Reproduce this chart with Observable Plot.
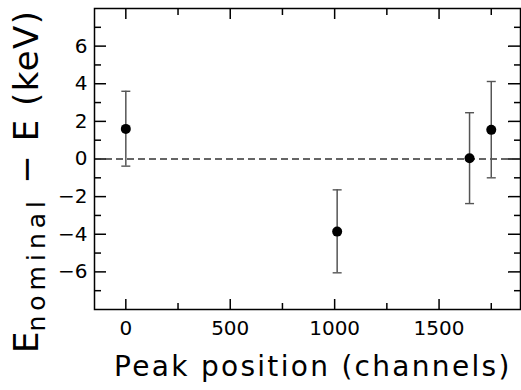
<!DOCTYPE html>
<html>
<head>
<meta charset="utf-8">
<script src="https://cdn.jsdelivr.net/npm/d3@7"></script>
<script src="https://cdn.jsdelivr.net/npm/@observablehq/plot@0.6"></script>
<style>
  html, body { margin: 0; padding: 0; background: #fff; }
  #chart svg { display: block; }
</style>
</head>
<body>
<div id="chart"></div>
<script>
// ---- data ----
const peakPos   = [0, 1012, 1646, 1750];
const deltaE    = [1.6, -3.86, 0.04, 1.55];
const errHigh   = [3.6, -1.64, 2.46, 4.12];
const errLow    = [-0.38, -6.05, -2.37, -1.0];

const xMajor = [0, 500, 1000, 1500];
const xMinor = [250, 750, 1250, 1750];
const yMajor = [-6, -4, -2, 0, 2, 4, 6];
const yMinor = [-7, -5, -3, -1, 1, 3, 5, 7];

const xTitle = "Peak position (channels)";
const yTitleMain = "E";
const yTitleSub = "nominal";
const yTitleRest = " \u2212 E (keV)";

const data = peakPos.map((x, i) => ({x, y: deltaE[i], hi: errHigh[i], lo: errLow[i]}));

// ---- layout ----
const W = 521, H = 390;
const mL = 94, mR = 1, mT = 8, mB = 81;
const fw = W - mL - mR, fh = H - mT - mB;

const capSymbol = { draw(ctx) { ctx.moveTo(-4.5, 0); ctx.lineTo(4.5, 0); } };

const chart = Plot.plot({
  width: W, height: H,
  marginLeft: mL, marginRight: mR, marginTop: mT, marginBottom: mB,
  style: { fontFamily: "DejaVu Sans", background: "white", color: "black" },
  x: { domain: [-150, 1890] },
  y: { domain: [-8, 8] },
  marks: [
    // tick labels
    Plot.axisX(xMajor, { tickSize: 0, tickPadding: 11, fontSize: 20, label: null, tickFormat: d => String(d) }),
    Plot.axisY(yMajor, { tickSize: 0, tickPadding: 7, fontSize: 20, label: null }),
    // inward ticks: bottom / top
    Plot.ruleX(xMajor, { insetTop: fh - 10, stroke: "black", strokeWidth: 1.5 }),
    Plot.ruleX(xMinor, { insetTop: fh - 6, stroke: "black", strokeWidth: 1.5 }),
    Plot.ruleX(xMajor, { insetBottom: fh - 11, stroke: "black", strokeWidth: 1.5 }),
    Plot.ruleX(xMinor, { insetBottom: fh - 7, stroke: "black", strokeWidth: 1.5 }),
    // inward ticks: left / right
    Plot.ruleY(yMajor, { insetRight: fw - 12, stroke: "black", strokeWidth: 1.5 }),
    Plot.ruleY(yMinor, { insetRight: fw - 7, stroke: "black", strokeWidth: 1.5 }),
    Plot.ruleY(yMajor, { insetLeft: fw - 12, stroke: "black", strokeWidth: 1.5 }),
    Plot.ruleY(yMinor, { insetLeft: fw - 6, stroke: "black", strokeWidth: 1.5 }),
    // zero line
    Plot.ruleY([0], { stroke: "#333", strokeWidth: 1.3, strokeDasharray: "7,4" }),
    // error bars
    Plot.ruleX(data, { x: "x", y1: "lo", y2: "hi", stroke: "#555", strokeWidth: 1.5 }),
    Plot.dot(data, { x: "x", y: "hi", symbol: capSymbol, stroke: "#555", strokeWidth: 1.4, fill: "none" }),
    Plot.dot(data, { x: "x", y: "lo", symbol: capSymbol, stroke: "#555", strokeWidth: 1.4, fill: "none" }),
    // points
    Plot.dot(data, { x: "x", y: "y", r: 5, fill: "black", stroke: "none" }),
    Plot.frame({ stroke: "black", strokeWidth: 1.5 })
  ]
});

const svg = d3.select(chart);
// x title
svg.append("text")
  .attr("x", 114).attr("y", 376)
  .attr("text-anchor", "start")
  .attr("font-family", "DejaVu Sans")
  .attr("font-size", 28)
  .attr("letter-spacing", "2.3px")
  .attr("fill", "black")
  .text(xTitle);
// y title with subscript
const yt = svg.append("text")
  .attr("transform", "translate(38,353) rotate(-90)")
  .attr("text-anchor", "start")
  .attr("font-family", "DejaVu Sans")
  .attr("fill", "black");
yt.append("tspan").attr("font-size", 34).text(yTitleMain);
yt.append("tspan").attr("font-size", 25).attr("dy", 7).attr("letter-spacing", "5px").text(yTitleSub);
yt.append("tspan").attr("font-size", 34).attr("dy", -7).attr("letter-spacing", "1.5px").text(yTitleRest);

document.getElementById("chart").appendChild(chart);
</script>
</body>
</html>
